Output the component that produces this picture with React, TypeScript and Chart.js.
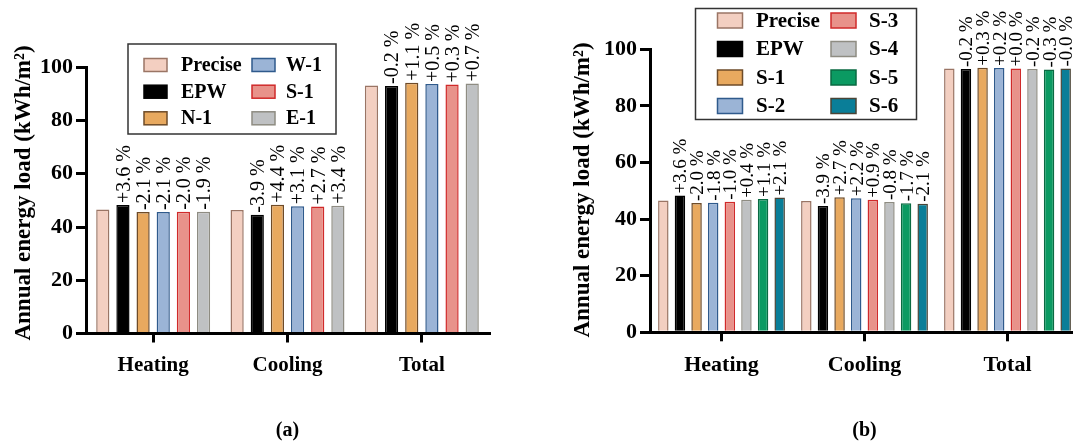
import React, { useEffect, useRef } from 'react';
import { Chart, registerables } from 'chart.js';
Chart.register(...registerables);

const SERIF = '"Liberation Serif", "Times New Roman", serif';

const categories = ['Heating', 'Cooling', 'Total'];
const yMin = 0;
const yMax = 100;
const yStep = 20;
const yTitle = 'Annual energy load (kWh/m\u00B2)';

// ---- (a) ----
const seriesNamesA = ['Precise', 'EPW', 'N-1', 'W-1', 'S-1', 'E-1'];
const preciseA = [46.6, 46.4, 93.2];
const epwA = [48.3, 44.6, 93.0];
const n1A = [45.6, 48.4, 94.2];
const w1A = [45.6, 47.8, 93.7];
const s1A = [45.7, 47.7, 93.5];
const e1A = [45.7, 48.0, 93.9];
const epwLabelsA = ['+3.6 %', '-3.9 %', '-0.2 %'];
const n1LabelsA = ['-2.1 %', '+4.4 %', '+1.1 %'];
const w1LabelsA = ['-2.1 %', '+3.1 %', '+0.5 %'];
const s1LabelsA = ['-2.0 %', '+2.7 %', '+0.3 %'];
const e1LabelsA = ['-1.9 %', '+3.4 %', '+0.7 %'];

// ---- (b) ----
const seriesNamesB = ['Precise', 'EPW', 'S-1', 'S-2', 'S-3', 'S-4', 'S-5', 'S-6'];
const preciseB = [46.6, 46.4, 93.2];
const epwB = [48.3, 44.6, 93.0];
const s1B = [45.7, 47.7, 93.5];
const s2B = [45.8, 47.4, 93.4];
const s3B = [46.1, 46.8, 93.2];
const s4B = [46.8, 46.0, 93.0];
const s5B = [47.1, 45.6, 92.9];
const s6B = [47.6, 45.4, 93.2];
const epwLabelsB = ['+3.6 %', '-3.9 %', '-0.2 %'];
const s1LabelsB = ['-2.0 %', '+2.7 %', '+0.3 %'];
const s2LabelsB = ['-1.8 %', '+2.2 %', '+0.2 %'];
const s3LabelsB = ['-1.0 %', '+0.9 %', '+0.0 %'];
const s4LabelsB = ['+0.4 %', '-0.8 %', '-0.2 %'];
const s5LabelsB = ['+1.1 %', '-1.7 %', '-0.3 %'];
const s6LabelsB = ['+2.1 %', '-2.1 %', '-0.0 %'];

const STYLE: Record<string, { fill: string; border: string }> = {
  precise: { fill: '#f3cfc1', border: '#9a7565' },
  epw: { fill: '#000000', border: '#000000' },
  orange: { fill: '#e8a95f', border: '#6e4b28' },
  blue: { fill: '#9bb4d6', border: '#2f5a8c' },
  salmon: { fill: '#e8928a', border: '#d02a2a' },
  gray: { fill: '#bfc1c3', border: '#8e8c82' },
  green: { fill: '#0b9a62', border: '#0a6a42' },
  teal: { fill: '#0a7e98', border: '#4a4436' },
};

function ds(label: string, data: number[], style: string, pct: string[] | null, catPct: number, barPct: number) {
  const s = STYLE[style];
  return {
    label,
    data,
    backgroundColor: s.fill,
    borderColor: s.border,
    borderWidth: 1.5,
    categoryPercentage: catPct,
    barPercentage: barPct,
    pctLabels: pct,
  };
}

const annotPlugin = {
  id: 'annot',
  afterDatasetsDraw(chart: any, _args: any, opts: any) {
    const ctx = chart.ctx as CanvasRenderingContext2D;
    // bar percentage labels
    chart.data.datasets.forEach((d: any, i: number) => {
      if (!d.pctLabels) return;
      const meta = chart.getDatasetMeta(i);
      meta.data.forEach((bar: any, j: number) => {
        const t = d.pctLabels[j];
        if (!t) return;
        ctx.save();
        ctx.fillStyle = '#000';
        ctx.font = `${opts.pctFont}px ${SERIF}`;
        ctx.translate(bar.x + opts.pctFont * 0.34, bar.y - 2);
        ctx.rotate(-Math.PI / 2);
        ctx.textAlign = 'left';
        ctx.textBaseline = 'alphabetic';
        ctx.fillText(t, 0, 0);
        ctx.restore();
      });
    });
    // legend
    const L = opts.legend;
    ctx.save();
    ctx.fillStyle = '#fff';
    ctx.fillRect(L.x, L.y, L.w, L.h);
    ctx.strokeStyle = '#333';
    ctx.lineWidth = 1.5;
    ctx.strokeRect(L.x, L.y, L.w, L.h);
    ctx.font = `bold ${L.font}px ${SERIF}`;
    ctx.textAlign = 'left';
    ctx.textBaseline = 'middle';
    chart.data.datasets.forEach((d: any, i: number) => {
      const col = Math.floor(i / L.perCol);
      const row = i % L.perCol;
      const cy = L.rowY[row];
      const sx = L.swX[col];
      ctx.fillStyle = d.backgroundColor;
      ctx.fillRect(sx, cy - L.swH / 2, L.swW, L.swH);
      ctx.strokeStyle = d.borderColor;
      ctx.lineWidth = 1.5;
      ctx.strokeRect(sx, cy - L.swH / 2, L.swW, L.swH);
      ctx.fillStyle = '#000';
      ctx.fillText(d.label, L.txtX[col], cy + 1);
    });
    ctx.restore();
    // y title
    const T = opts.yTitle;
    ctx.save();
    ctx.fillStyle = '#000';
    ctx.font = `bold ${T.font}px ${SERIF}`;
    ctx.translate(T.x, T.cy);
    ctx.rotate(-Math.PI / 2);
    ctx.textAlign = 'center';
    ctx.textBaseline = 'middle';
    ctx.fillText(yTitle, 0, 0);
    ctx.restore();
  },
};

function buildConfig(p: any) {
  return {
    type: 'bar',
    data: { labels: categories, datasets: p.datasets },
    plugins: [annotPlugin],
    options: {
      responsive: false,
      animation: false,
      devicePixelRatio: 1,
      layout: { padding: { left: 0, right: p.padRight, top: p.padTop, bottom: 0 } },
      plugins: {
        legend: { display: false },
        tooltip: { enabled: false },
        annot: { pctFont: p.pctFont, legend: p.legend, yTitle: p.yTitle },
      },
      scales: {
        x: {
          type: 'category',
          offset: true,
          afterFit: (s: any) => { s.height = p.xHeight; },
          grid: {
            offset: false,
            drawOnChartArea: false,
            drawTicks: true,
            tickLength: 9,
            tickWidth: 3,
            tickColor: '#000',
            color: '#000',
            lineWidth: 3,
          },
          border: { display: true, color: '#000', width: 3 },
          ticks: {
            color: '#000',
            padding: p.xPad,
            font: { family: SERIF, weight: 'bold', size: p.xFont },
          },
          title: {
            display: true,
            text: p.sub,
            color: '#000',
            font: { family: SERIF, weight: 'bold', size: 20 },
            padding: { top: 0, bottom: 0 },
          },
        },
        y: {
          min: yMin,
          max: yMax,
          afterFit: (s: any) => { s.width = p.yWidth; },
          grid: {
            drawOnChartArea: false,
            drawTicks: true,
            tickLength: 10,
            tickWidth: 3,
            tickColor: '#000',
            color: '#000',
            lineWidth: 3,
          },
          border: { display: true, color: '#000', width: 3 },
          ticks: {
            stepSize: yStep,
            color: '#000',
            padding: 3,
            font: { family: SERIF, weight: 'bold', size: 22 },
          },
        },
      },
    },
  };
}

export default function App() {
  const refA = useRef<HTMLCanvasElement>(null);
  const refB = useRef<HTMLCanvasElement>(null);

  useEffect(() => {
    const cA = 0.9, bA = 0.655;
    const cB = 0.93, bB = 0.63;
    const datasetsA = [
      ds(seriesNamesA[0], preciseA, 'precise', null, cA, bA),
      ds(seriesNamesA[1], epwA, 'epw', epwLabelsA, cA, bA),
      ds(seriesNamesA[2], n1A, 'orange', n1LabelsA, cA, bA),
      ds(seriesNamesA[3], w1A, 'blue', w1LabelsA, cA, bA),
      ds(seriesNamesA[4], s1A, 'salmon', s1LabelsA, cA, bA),
      ds(seriesNamesA[5], e1A, 'gray', e1LabelsA, cA, bA),
    ];
    const datasetsB = [
      ds(seriesNamesB[0], preciseB, 'precise', null, cB, bB),
      ds(seriesNamesB[1], epwB, 'epw', epwLabelsB, cB, bB),
      ds(seriesNamesB[2], s1B, 'orange', s1LabelsB, cB, bB),
      ds(seriesNamesB[3], s2B, 'blue', s2LabelsB, cB, bB),
      ds(seriesNamesB[4], s3B, 'salmon', s3LabelsB, cB, bB),
      ds(seriesNamesB[5], s4B, 'gray', s4LabelsB, cB, bB),
      ds(seriesNamesB[6], s5B, 'green', s5LabelsB, cB, bB),
      ds(seriesNamesB[7], s6B, 'teal', s6LabelsB, cB, bB),
    ];
    const chartA = new Chart(refA.current as HTMLCanvasElement, buildConfig({
      datasets: datasetsA,
      padRight: 540 - 489,
      padTop: 67.3,
      yWidth: 86,
      xHeight: 443 - 333.5,
      xPad: 10,
      xFont: 21,
      pctFont: 20,
      sub: '(a)',
      legend: { x: 128, y: 44, w: 208, h: 90, perCol: 3, rowY: [65, 91.7, 118.3], swX: [144, 252], txtX: [181, 286], swW: 23, swH: 13, font: 20 },
      yTitle: { x: 24, cy: 193, font: 23 },
    }) as any);
    const chartB = new Chart(refB.current as HTMLCanvasElement, buildConfig({
      datasets: datasetsB,
      padRight: 560 - 539,
      padTop: 49.3,
      yWidth: 110,
      xHeight: 443 - 332.3,
      xPad: 11,
      xFont: 22,
      pctFont: 19,
      sub: '(b)',
      legend: { x: 155.5, y: 8.5, w: 221, h: 111, perCol: 4, rowY: [20.5, 49, 77.5, 106], swX: [177.5, 291], txtX: [216, 329], swW: 25, swH: 15, font: 21 },
      yTitle: { x: 43, cy: 190, font: 23 },
    }) as any);
    return () => {
      chartA.destroy();
      chartB.destroy();
    };
  }, []);

  return (
    <div style={{ position: 'fixed', left: 0, top: 0, width: 1100, height: 443, overflow: 'hidden', background: '#fff' }}>
      <canvas ref={refA} width={540} height={443} style={{ position: 'absolute', left: 0, top: 0, width: 540, height: 443 }} />
      <canvas ref={refB} width={560} height={443} style={{ position: 'absolute', left: 540, top: 0, width: 560, height: 443 }} />
    </div>
  );
}
